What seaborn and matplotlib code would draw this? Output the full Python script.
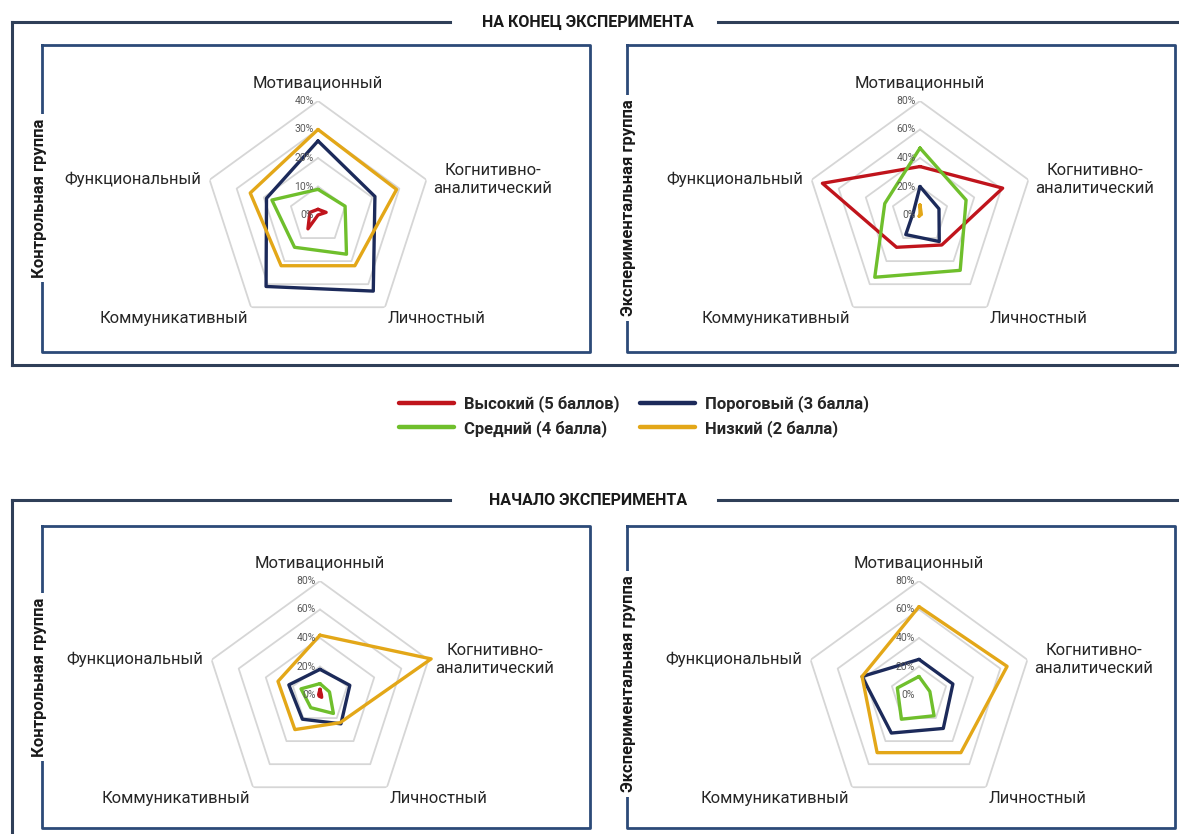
import numpy as np
import pandas as pd
import matplotlib.pyplot as plt
import seaborn as sns
from matplotlib.lines import Line2D
from matplotlib.transforms import ScaledTranslation

sns.set_style("white")
plt.rcParams['font.family'] = ['Roboto', 'DejaVu Sans']

# categories (clockwise from top) and levels
categories = ["Мотивационный", "Когнитивно-\nаналитический", "Личностный",
              "Коммуникативный", "Функциональный"]
levels = ["Высокий (5 баллов)", "Средний (4 балла)", "Пороговый (3 балла)", "Низкий (2 балла)"]
level_colors = ["#c0141c", "#6fbf2c", "#1c2a5a", "#e3a718"]

# end of experiment, control group (%)
end_control_high = [2, 3, 0, 6, 3]
end_control_mid = [9, 10, 17, 14, 17]
end_control_thr = [26, 21, 33, 31, 19]
end_control_low = [30, 29, 22, 22, 25]

# end of experiment, experimental group (%)
end_exp_high = [34, 61, 26, 28, 72]
end_exp_mid = [47, 34, 48, 54, 26]
end_exp_thr = [20, 14, 23, 17, 5]
end_exp_low = [7, 1, 0, 1, 0]

# start of experiment, control group (%)
start_control_high = [4, 1, 2, 1, 1]
start_control_mid = [8, 7, 16, 11, 14]
start_control_thr = [18, 22, 25, 21, 23]
start_control_low = [42, 82, 24, 30, 31]

# start of experiment, experimental group (%)
start_exp_high = [0, 0, 0, 0, 0]
start_exp_mid = [13, 8, 18, 21, 16]
start_exp_thr = [25, 25, 29, 33, 42]
start_exp_low = [62, 65, 50, 50, 42]

headers = ["НА КОНЕЦ ЭКСПЕРИМЕНТА", "НАЧАЛО ЭКСПЕРИМЕНТА"]
group_labels = ["Контрольная группа", "Экспериментальная группа"]

W, H = 1179, 834
fig = plt.figure(figsize=(W / 100, H / 100), dpi=100)
fig.patch.set_facecolor("white")

# pixel-space overlay for the frames
bg = fig.add_axes([0, 0, 1, 1], zorder=0)
bg.set_xlim(0, W)
bg.set_ylim(H, 0)
bg.axis("off")

frame_col = "#2f3f58"
box_col = "#2c4a78"


def seg(xs, ys, c=frame_col, lw=2.2):
    bg.plot(xs, ys, color=c, lw=lw, solid_capstyle="projecting")


# outer frames (top line broken by the header)
for top, bottom in [(22, 365), (500, 860)]:
    seg([12, 450], [top, top])
    seg([718, W + 5], [top, top])
    seg([12, 12], [top, bottom])
    seg([12, W + 5], [bottom, bottom])

# inner boxes
for top, bottom in [(45, 352), (526, 828)]:
    for left, right in [(42, 590), (627, 1175)]:
        seg([left, right, right, left, left], [top, top, bottom, bottom, top], c=box_col, lw=2.0)

for y, txt in zip([22, 500], headers):
    fig.text(588 / W, 1 - y / H, txt, ha="center", va="center", fontsize=11.5,
             fontweight="bold", color="#1a1a1a")

# group labels on the left borders
for (x, y, txt) in [(40, 198, group_labels[0]), (628, 208, group_labels[1]),
                    (40, 677, group_labels[0]), (628, 684, group_labels[1])]:
    fig.text(x / W, 1 - y / H, txt, rotation=90, ha="center", va="center",
             fontsize=12, fontweight="bold", color="#1a1a1a",
             bbox=dict(facecolor="white", edgecolor="none", pad=3))

theta = np.linspace(0, 2 * np.pi, 5, endpoint=False)
theta_closed = np.append(theta, 2 * np.pi)

# label offsets (points) and alignment per category
label_pos = [(0, 13, "center", "center"),
             (5, 0, "left", "center"),
             (2, -3, "left", "top"),
             (-2, -3, "right", "top"),
             (-6, 0, "right", "center")]


def radar(cx, cy, series, rmax, step, R=114):
    ax = fig.add_axes([(cx - R) / W, 1 - (cy + R) / H, 2 * R / W, 2 * R / H],
                      projection="polar", zorder=2)
    ax.set_theta_offset(np.pi / 2)
    ax.set_theta_direction(-1)
    ax.patch.set_alpha(0)
    ax.spines["polar"].set_visible(False)

    for r in np.arange(step, rmax + step / 2, step):
        ax.plot(theta_closed, [r] * 6, color="#d6d6d6", lw=1.3, zorder=1)

    for name, vals, col in series:
        if max(vals) == 0:
            continue
        df = pd.DataFrame({"theta": theta_closed, "value": list(vals) + [vals[0]]})
        sns.lineplot(data=df, x="theta", y="value", ax=ax, sort=False, estimator=None,
                     color=col, lw=2.4, legend=False, clip_on=False, zorder=3)

    ax.set_ylim(0, rmax)
    ax.set_xticks([])
    ax.set_yticks([])
    ax.grid(False)
    ax.set_xlabel("")
    ax.set_ylabel("")

    for r in np.arange(0, rmax + step / 2, step):
        ax.text(0, r, f"{int(r)}%", ha="right", va="center", fontsize=7.5, color="#595959",
                transform=ax.transData + ScaledTranslation(-3 / 72, 0, fig.dpi_scale_trans))

    for t, lab, (dx, dy, ha, va) in zip(theta, categories, label_pos):
        ax.text(t, rmax, lab, ha=ha, va=va, fontsize=12, color="#262626",
                multialignment="center", linespacing=1.25,
                transform=ax.transData + ScaledTranslation(dx / 72, dy / 72, fig.dpi_scale_trans))
    return ax


radar(318, 215, [(levels[0], end_control_high, level_colors[0]),
                 (levels[1], end_control_mid, level_colors[1]),
                 (levels[2], end_control_thr, level_colors[2]),
                 (levels[3], end_control_low, level_colors[3])], 40, 10)
radar(920, 215, [(levels[0], end_exp_high, level_colors[0]),
                 (levels[1], end_exp_mid, level_colors[1]),
                 (levels[2], end_exp_thr, level_colors[2]),
                 (levels[3], end_exp_low, level_colors[3])], 80, 20)
radar(320, 695, [(levels[0], start_control_high, level_colors[0]),
                 (levels[1], start_control_mid, level_colors[1]),
                 (levels[2], start_control_thr, level_colors[2]),
                 (levels[3], start_control_low, level_colors[3])], 80, 20)
radar(919, 695, [(levels[0], start_exp_high, level_colors[0]),
                 (levels[1], start_exp_mid, level_colors[1]),
                 (levels[2], start_exp_thr, level_colors[2]),
                 (levels[3], start_exp_low, level_colors[3])], 80, 20)

handles = [Line2D([], [], color=c, lw=3.2) for c in level_colors]
leg = fig.legend(handles, levels, ncol=2, loc="center", bbox_to_anchor=(634 / W, 1 - 416 / H),
                 frameon=False, handlelength=3.3, handletextpad=0.6, columnspacing=1.2,
                 labelspacing=0.45, prop={"size": 12, "weight": "bold"})

fig.savefig("out.png", dpi=100, facecolor="white")
